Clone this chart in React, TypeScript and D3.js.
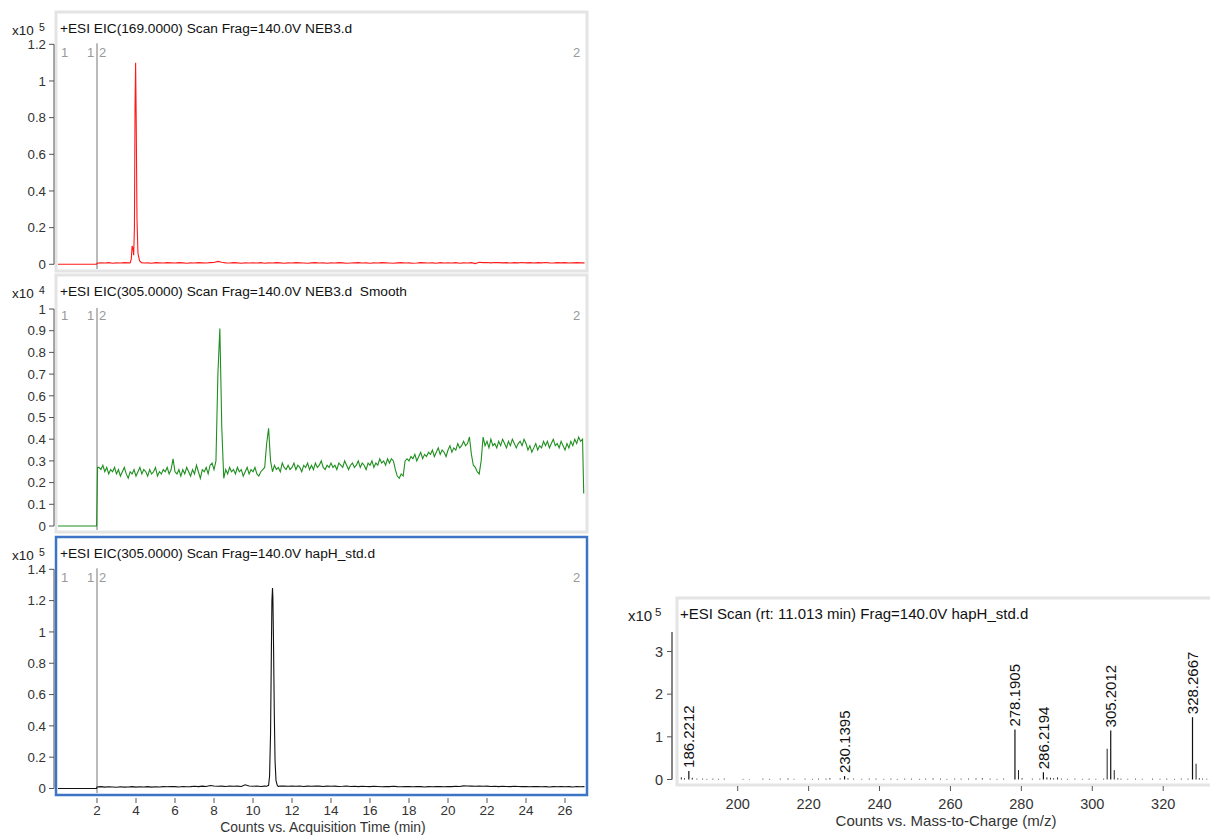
import React from 'react'
import * as d3 from 'd3'

// ---- chromatogram data (time in min) ----
// EIC 169 (x10^5), red. baseline sampled every 0.2 min from 2.0
const redBase = [
  0.006, 0.008, 0.007, 0.009, 0.006, 0.008, 0.007, 0.009, 0.008, 0.007,
  0.008, 0.009, 0.007, 0.008, 0.006, 0.009, 0.008, 0.007, 0.009, 0.008,
  0.007, 0.009, 0.008, 0.006, 0.008, 0.007, 0.009, 0.008, 0.007, 0.009,
  0.010, 0.016, 0.011, 0.008, 0.007, 0.009, 0.008, 0.006, 0.008, 0.007,
  0.008, 0.007, 0.009, 0.006, 0.008, 0.007, 0.009, 0.008, 0.006, 0.008,
  0.007, 0.009, 0.008, 0.007, 0.006, 0.008, 0.009, 0.007, 0.008, 0.006,
  0.008, 0.007, 0.009, 0.008, 0.006, 0.007, 0.008, 0.009, 0.007, 0.008,
  0.006, 0.008, 0.007, 0.009, 0.008, 0.007, 0.006, 0.008, 0.009, 0.007,
  0.008, 0.006, 0.007, 0.009, 0.008, 0.007, 0.008, 0.006, 0.009, 0.007,
  0.008, 0.007, 0.009, 0.006, 0.008, 0.007, 0.009, 0.004, 0.011, 0.009,
  0.010, 0.008, 0.010, 0.009, 0.008, 0.009, 0.007, 0.009, 0.008, 0.010,
  0.008, 0.009, 0.007, 0.009, 0.008, 0.010, 0.008, 0.007, 0.009, 0.008,
  0.009, 0.007, 0.008, 0.009, 0.008, 0.008,
]
const redPeak: [number, number][] = [
  [3.7, 0.008], [3.76, 0.03], [3.8, 0.1], [3.84, 0.09], [3.88, 0.05], [3.92, 0.2],
  [3.95, 0.85], [3.98, 1.1], [4.01, 0.8], [4.05, 0.25], [4.1, 0.06], [4.18, 0.02], [4.28, 0.009],
]

// EIC 305 NEB3 smooth (x10^4), green. sampled every 0.1 min from 2.1
const greenBase = [
  0.27, 0.26, 0.28, 0.25, 0.27, 0.24, 0.26, 0.25, 0.27,
  0.24, 0.26, 0.23, 0.25, 0.27, 0.24, 0.22, 0.25, 0.24, 0.26,
  0.23, 0.25, 0.27, 0.24, 0.26, 0.25, 0.23, 0.26, 0.24, 0.25,
  0.27, 0.23, 0.25, 0.24, 0.26, 0.25, 0.27, 0.24, 0.26, 0.31,
  0.25, 0.24, 0.26, 0.23, 0.26, 0.24, 0.27, 0.25, 0.23, 0.26,
  0.24, 0.28, 0.25, 0.22, 0.26, 0.25, 0.27, 0.24, 0.28, 0.29,
  0.26, 0.30, 0.70, 0.91, 0.45, 0.22, 0.26, 0.24, 0.27, 0.25,
  0.26, 0.24, 0.27, 0.25, 0.26, 0.23, 0.25, 0.27, 0.24, 0.26,
  0.25, 0.27, 0.24, 0.23, 0.25, 0.26, 0.27, 0.38, 0.45, 0.30,
  0.25, 0.28, 0.26, 0.27, 0.25, 0.29, 0.27, 0.26, 0.28, 0.26,
  0.27, 0.29, 0.26, 0.28, 0.27, 0.25, 0.28, 0.27, 0.29, 0.26,
  0.28, 0.26, 0.29, 0.27, 0.28, 0.30, 0.27, 0.26, 0.28, 0.27,
  0.29, 0.27, 0.28, 0.26, 0.29, 0.28, 0.27, 0.30, 0.28, 0.26,
  0.28, 0.29, 0.27, 0.28, 0.30, 0.27, 0.29, 0.28, 0.26, 0.29,
  0.28, 0.30, 0.27, 0.29, 0.28, 0.31, 0.29, 0.30, 0.28, 0.31,
  0.29, 0.31, 0.30, 0.26, 0.23, 0.22, 0.24, 0.23, 0.30, 0.31,
  0.30, 0.32, 0.31, 0.33, 0.30, 0.32, 0.34, 0.31, 0.33, 0.32,
  0.34, 0.33, 0.35, 0.32, 0.34, 0.36, 0.33, 0.35, 0.34, 0.32,
  0.35, 0.37, 0.34, 0.36, 0.35, 0.38, 0.36, 0.37, 0.39, 0.37,
  0.38, 0.41, 0.33, 0.28, 0.27, 0.25, 0.24, 0.30, 0.41, 0.37,
  0.39, 0.36, 0.40, 0.37, 0.38, 0.36, 0.39, 0.37, 0.40, 0.38,
  0.36, 0.39, 0.37, 0.40, 0.38, 0.36, 0.38, 0.39, 0.37, 0.40,
  0.38, 0.35, 0.37, 0.34, 0.36, 0.38, 0.35, 0.37, 0.36, 0.39,
  0.37, 0.39, 0.36, 0.38, 0.40, 0.37, 0.38, 0.36, 0.39, 0.37,
  0.35, 0.38, 0.36, 0.39, 0.37, 0.40, 0.38, 0.41, 0.39, 0.40,
]
const greenLead: [number, number][] = [[0, 0], [1.98, 0], [2.03, 0.27]]
const greenTail: [number, number][] = [[26.96, 0.15]]

// EIC 305 hapH_std (x10^5), black. baseline every 0.2 min from 2.0
const blackBase = [
  0.010, 0.012, 0.009, 0.011, 0.010, 0.008, 0.011, 0.009, 0.010, 0.012,
  0.009, 0.011, 0.010, 0.012, 0.009, 0.011, 0.010, 0.012, 0.011, 0.013,
  0.012, 0.010, 0.013, 0.011, 0.012, 0.014, 0.012, 0.015, 0.013, 0.019,
  0.016, 0.014, 0.015, 0.013, 0.016, 0.014, 0.015, 0.013, 0.024, 0.016,
  0.014, 0.016, 0.013, 0.015, 0.014, 0.015, 0.014, 0.016, 0.015, 0.014,
  0.015, 0.014, 0.016, 0.013, 0.015, 0.014, 0.016, 0.015, 0.013, 0.015,
  0.014, 0.015, 0.013, 0.014, 0.016, 0.013, 0.014, 0.012, 0.014, 0.013,
  0.012, 0.014, 0.013, 0.011, 0.013, 0.012, 0.014, 0.012, 0.011, 0.013,
  0.012, 0.011, 0.013, 0.012, 0.010, 0.012, 0.011, 0.013, 0.012, 0.011,
  0.013, 0.012, 0.014, 0.013, 0.017, 0.016, 0.015, 0.014, 0.016, 0.014,
  0.015, 0.013, 0.014, 0.012, 0.014, 0.013, 0.012, 0.014, 0.013, 0.012,
  0.013, 0.011, 0.012, 0.013, 0.011, 0.012, 0.010, 0.012, 0.011, 0.013,
  0.011, 0.012, 0.010, 0.013, 0.011, 0.012,
]
const blackPeak: [number, number][] = [
  [10.7, 0.014], [10.8, 0.02], [10.85, 0.08], [10.9, 0.35], [10.94, 0.85], [10.97, 1.2],
  [10.99, 1.25], [11.0, 1.28], [11.02, 1.22], [11.05, 0.95], [11.09, 0.5], [11.13, 0.18],
  [11.18, 0.05], [11.25, 0.018], [11.3, 0.014],
]

// ---- mass spectrum at rt 11.013 (x10^5) ----
const specMz = [
  184.1, 185.0, 187.2, 188.5, 190.1, 191.3, 193.0, 194.6, 196.2, 201.5, 203.3, 207.1, 209.0,
  212.0, 214.2, 215.9, 219.0, 221.1, 222.8, 224.9, 226.0, 228.9, 231.1, 232.7, 235.0, 237.1,
  239.0, 241.2, 243.2, 245.0, 247.1, 249.0, 251.3, 253.0, 255.1, 257.2, 259.0, 261.2, 263.0,
  265.1, 267.2, 269.0, 271.2, 273.1, 275.0, 279.19, 280.2, 283.1, 285.2, 287.2, 288.2, 289.1,
  290.2, 291.3, 293.0, 295.1, 297.2, 299.1, 301.0, 303.2, 304.2, 306.2, 307.2, 308.1, 310.0,
  312.2, 314.1, 317.0, 319.1, 321.0, 323.2, 325.1, 327.0, 329.27, 330.2, 331.1, 332.3,
]
const specInt = [
  0.05, 0.03, 0.04, 0.02, 0.02, 0.015, 0.02, 0.015, 0.02, 0.015, 0.01, 0.02, 0.015,
  0.02, 0.025, 0.015, 0.02, 0.015, 0.02, 0.02, 0.03, 0.025, 0.03, 0.02, 0.015, 0.02,
  0.02, 0.015, 0.02, 0.015, 0.02, 0.02, 0.015, 0.02, 0.025, 0.02, 0.015, 0.02, 0.02,
  0.02, 0.025, 0.03, 0.02, 0.015, 0.02, 0.22, 0.03, 0.02, 0.02, 0.05, 0.04, 0.03,
  0.05, 0.02, 0.015, 0.02, 0.015, 0.02, 0.015, 0.02, 0.72, 0.22, 0.03, 0.02, 0.015,
  0.02, 0.015, 0.02, 0.015, 0.02, 0.015, 0.02, 0.02, 0.37, 0.03, 0.02, 0.015,
]
const labelMz = [186.2212, 230.1395, 278.1905, 286.2194, 305.2012, 328.2667]
const labelInt = [0.2, 0.08, 1.17, 0.17, 1.15, 1.46]

const xTicksTime = [2, 4, 6, 8, 10, 12, 14, 16, 18, 20, 22, 24, 26]
const xTicksMz = [200, 220, 240, 260, 280, 300, 320]

const FONT = '"Liberation Sans", Arial, sans-serif'

const gridPairs = (vals: number[], start: number, step: number): [number, number][] =>
  vals.map((v, i) => [+(start + i * step).toFixed(2), v])

// baseline points outside the peak window plus the peak points
const withPeak = (base: [number, number][], peak: [number, number][]) => {
  const lo = peak[0][0], hi = peak[peak.length - 1][0]
  return base.filter(d => d[0] < lo || d[0] > hi).concat(peak).sort((a, b) => a[0] - b[0])
}

const redSeries: [number, number][] = [[0, 0], [1.98, 0], ...withPeak(gridPairs(redBase, 2.0, 0.2), redPeak)]
const greenSeries: [number, number][] = [...greenLead, ...gridPairs(greenBase, 2.1, 0.1), ...greenTail]
const blackSeries: [number, number][] = [[0, 0], [1.98, 0], ...withPeak(gridPairs(blackBase, 2.0, 0.2), blackPeak)]

const x = d3.scaleLinear().domain([0, 27]).range([58, 584.5])
const fmt = (d: number) => String(+d.toFixed(2))

type PanelProps = {
  top: number
  bottom: number
  yDomain: number
  yRange: [number, number]
  step: number
  exp: string
  header: string
  color: string
  data: [number, number][]
  blue?: boolean
}

const ChromPanel = ({ top, bottom, yDomain, yRange, step, exp, header, color, data, blue }: PanelProps) => {
  const y = d3.scaleLinear().domain([0, yDomain]).range(yRange)
  const ticks = d3.range(0, yDomain + step / 2, step)
  const line = d3.line<[number, number]>().x(d => x(d[0])).y(d => y(d[1]))
  return (
    <g>
      <rect x={56} y={top} width={531} height={bottom - top} fill="#fff"
        stroke={blue ? '#3d74c6' : '#e4e4e4'} strokeWidth={blue ? 2.5 : 3} />
      <line x1={54} x2={54} y1={y(yDomain)} y2={y(0)} stroke="#555" />
      {ticks.map(t => (
        <g key={t}>
          <line x1={49} x2={54} y1={y(t)} y2={y(t)} stroke="#555" />
          <text x={46} y={y(t) + 4.7} textAnchor="end" fontSize={13.3} fill="#333">{fmt(t)}</text>
        </g>
      ))}
      <text x={12} y={top + 23} fontSize={13.5} fill="#222">x10</text>
      <text x={39} y={top + 19} fontSize={10.5} fill="#222">{exp}</text>
      <text x={60} y={top + 21} fontSize={13.7} fill="#111" style={{ whiteSpace: 'pre' }}>{header}</text>
      <line x1={x(2)} x2={x(2)} y1={y(yDomain) - 1} y2={bottom - 2} stroke="#777" />
      <g fontSize={13} fill="#999">
        <text x={61} y={top + 45}>1</text>
        <text x={87} y={top + 45}>1</text>
        <text x={99} y={top + 45}>2</text>
        <text x={573} y={top + 45}>2</text>
      </g>
      <path d={line(data) ?? ''} fill="none" stroke={color} strokeWidth={1.1} />
    </g>
  )
}

const Spectrum = () => {
  const xs = d3.scaleLinear().domain([182.6, 333.2]).range([676, 1210])
  const ys = d3.scaleLinear().domain([0, 3]).range([779.5, 651.5])
  return (
    <g>
      <rect x={677} y={598} width={540} height={187} fill="#fff" stroke="#e4e4e4" strokeWidth={3} />
      <line x1={672} x2={672} y1={632} y2={ys(0)} stroke="#333" strokeWidth={1.2} />
      {[0, 1, 2, 3].map(t => (
        <g key={t}>
          <line x1={667} x2={672} y1={ys(t)} y2={ys(t)} stroke="#555" />
          <text x={663} y={ys(t) + 5.2} textAnchor="end" fontSize={14.5} fill="#333">{t}</text>
        </g>
      ))}
      <text x={628} y={621} fontSize={15} fill="#222">x10</text>
      <text x={655} y={616} fontSize={11.5} fill="#222">5</text>
      <text x={680} y={619} fontSize={15} fill="#111">+ESI Scan (rt: 11.013 min) Frag=140.0V hapH_std.d</text>
      {specMz.map((m, i) => (
        <line key={i} x1={xs(m)} x2={xs(m)} y1={ys(0)} y2={ys(specInt[i])} stroke="#222" strokeWidth={1} />
      ))}
      {labelMz.map((m, i) => (
        <g key={m}>
          <line x1={xs(m)} x2={xs(m)} y1={ys(0)} y2={ys(labelInt[i])} stroke="#111" strokeWidth={1.2} />
          <text transform={`translate(${xs(m)},${ys(labelInt[i]) - 3}) rotate(-90)`} dy="0.36em"
            fontSize={15} fill="#111">{m.toFixed(4)}</text>
        </g>
      ))}
      {xTicksMz.map(t => (
        <g key={t}>
          <line x1={xs(t)} x2={xs(t)} y1={786} y2={791} stroke="#555" />
          <text x={xs(t)} y={809} textAnchor="middle" fontSize={14.5} fill="#333">{t}</text>
        </g>
      ))}
      <text x={946} y={826} textAnchor="middle" fontSize={15} fill="#333">Counts vs. Mass-to-Charge (m/z)</text>
    </g>
  )
}

export default function App() {
  return (
    <svg width={1210} height={837} style={{ position: 'absolute', left: 0, top: 0, background: '#fff' }}
      fontFamily={FONT}>
      <ChromPanel top={12} bottom={271} yDomain={1.2} yRange={[264.3, 44.3]} step={0.2} exp="5"
        header="+ESI EIC(169.0000) Scan Frag=140.0V NEB3.d" color="#ff1a1a" data={redSeries} />
      <ChromPanel top={275} bottom={532} yDomain={1} yRange={[526, 309]} step={0.1} exp="4"
        header="+ESI EIC(305.0000) Scan Frag=140.0V NEB3.d  Smooth" color="#1f8f1f" data={greenSeries} />
      <ChromPanel top={537} bottom={795} yDomain={1.4} yRange={[788.5, 569.3]} step={0.2} exp="5"
        header="+ESI EIC(305.0000) Scan Frag=140.0V hapH_std.d" color="#111" data={blackSeries} blue />
      {xTicksTime.map(t => (
        <g key={t}>
          <line x1={x(t)} x2={x(t)} y1={798} y2={803} stroke="#555" />
          <text x={x(t)} y={815} textAnchor="middle" fontSize={13.5} fill="#333">{t}</text>
        </g>
      ))}
      <text x={323} y={832} textAnchor="middle" fontSize={13.9} fill="#333">Counts vs. Acquisition Time (min)</text>
      <Spectrum />
    </svg>
  )
}
